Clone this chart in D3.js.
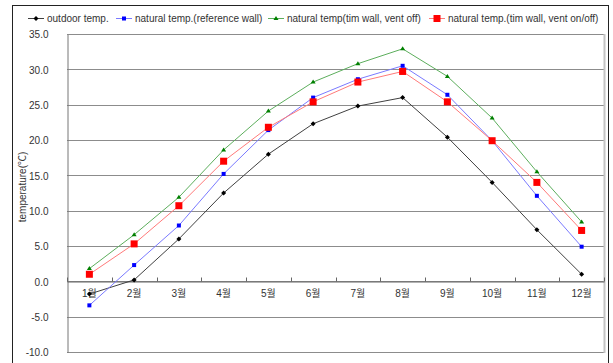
<!DOCTYPE html>
<html>
<head>
<meta charset="utf-8">
<script src="https://cdn.jsdelivr.net/npm/d3@7"></script>
<style>
  html, body { margin: 0; padding: 0; background: #fff; }
  svg { display: block; }
  text { font-family: "Liberation Sans", Arial, "Noto Sans CJK KR", sans-serif; fill: #333; }
</style>
</head>
<body>
<svg id="chart" width="613" height="363"></svg>
<script>
// Monthly temperatures (°C)
const months = ["1월","2월","3월","4월","5월","6월","7월","8월","9월","10월","11월","12월"];
const outdoorTemp   = [-1.8, 0.2, 6.0, 12.5, 18.0, 22.3, 24.8, 26.0, 20.4, 14.0, 7.3, 1.0];
const referenceWall = [-3.4, 2.3, 7.9, 15.2, 21.4, 26.0, 28.6, 30.5, 26.4, 19.9, 12.1, 4.9];
const timWallVentOff   = [1.8, 6.6, 11.9, 18.6, 24.1, 28.2, 30.8, 32.9, 29.0, 23.1, 15.5, 8.4];
const timWallVentOnOff = [1.0, 5.3, 10.7, 17.0, 21.8, 25.4, 28.2, 29.7, 25.4, 19.9, 14.0, 7.2];
const yTicks = [-10, -5, 0, 5, 10, 15, 20, 25, 30, 35];
const legendLabels = [
  "outdoor temp.",
  "natural temp.(reference wall)",
  "natural temp(tim wall, vent off)",
  "natural temp.(tim wall, vent on/off)"
];

const series = [
  { name: legendLabels[0], values: outdoorTemp,      line: "#404040", fill: "#000000", shape: "diamond",  size: 5 },
  { name: legendLabels[1], values: referenceWall,    line: "#7a7aff", fill: "#0000ff", shape: "square",   size: 4 },
  { name: legendLabels[2], values: timWallVentOff,   line: "#5cae5c", fill: "#008000", shape: "triangle", size: 5 },
  { name: legendLabels[3], values: timWallVentOnOff, line: "#ff7a7a", fill: "#ff0000", shape: "square",   size: 7 }
];
const legendX = [28, 116, 268, 429];

const svg = d3.select("#chart");
const plot = { left: 67, right: 604, top: 34, bottom: 352 };

const x = d3.scaleBand().domain(months).range([plot.left, plot.right]).padding(0);
const y = d3.scaleLinear().domain([-10, 35]).range([plot.bottom, plot.top]);

// outer frame
svg.append("rect")
  .attr("x", 12.5).attr("y", 5.5).attr("width", 596).attr("height", 370)
  .attr("fill", "none").attr("stroke", "#222").attr("stroke-width", 1);

// horizontal gridlines
svg.append("g").selectAll("line").data(yTicks).join("line")
  .attr("x1", plot.left).attr("x2", plot.right)
  .attr("y1", d => Math.round(y(d)) + 0.5).attr("y2", d => Math.round(y(d)) + 0.5)
  .attr("stroke", "#8c8c8c").attr("stroke-width", 1);

// plot borders
svg.append("line")
  .attr("x1", plot.right + 0.5).attr("x2", plot.right + 0.5)
  .attr("y1", plot.top).attr("y2", plot.bottom + 1)
  .attr("stroke", "#c4c4c4").attr("stroke-width", 2);

// y axis
const yAxis = svg.append("g")
  .attr("transform", `translate(${plot.left + 0.5},0.5)`)
  .call(d3.axisLeft(y).tickValues(yTicks).tickFormat(d => d.toFixed(1)).tickSize(0).tickPadding(19));
yAxis.select(".domain").attr("stroke", "#777");
yAxis.selectAll("text").attr("font-size", 10).attr("fill", "#333")
  .style("font-family", '"Liberation Sans", Arial, sans-serif');

// x axis on the zero line, ticks between categories pointing up
const y0 = Math.round(y(0)) + 0.5;
const xAxis = svg.append("g").attr("transform", `translate(0,${y0})`)
  .call(d3.axisBottom(x).tickSize(0).tickPadding(8));
xAxis.select(".domain").attr("stroke", "#666");
xAxis.selectAll("text").attr("font-size", 10).attr("fill", "#333");
const boundaries = months.map(m => x(m)).concat([plot.right]);
svg.append("g").selectAll("line").data(boundaries).join("line")
  .attr("x1", d => Math.round(d) + 0.5).attr("x2", d => Math.round(d) + 0.5)
  .attr("y1", y0 - 4).attr("y2", y0)
  .attr("stroke", "#666");

// y axis title
svg.append("text")
  .attr("transform", `translate(26,${(plot.top + plot.bottom) / 2 - 6}) rotate(-90)`)
  .attr("text-anchor", "middle").attr("font-size", 10)
  .text("temperature(℃)");

// marker shapes
function marker(sel, s) {
  const h = s.size / 2;
  if (s.shape === "square") {
    sel.append("rect").attr("x", -h).attr("y", -h).attr("width", s.size).attr("height", s.size).attr("fill", s.fill);
  } else if (s.shape === "diamond") {
    sel.append("path").attr("d", `M0,${-h}L${h},0L0,${h}L${-h},0Z`).attr("fill", s.fill);
  } else {
    sel.append("path").attr("d", `M0,${-h}L${h},${h - 1}L${-h},${h - 1}Z`).attr("fill", s.fill);
  }
}

const cx = m => x(m) + x.bandwidth() / 2;
const line = d3.line().x((d, i) => cx(months[i])).y(d => y(d));

series.forEach(s => {
  svg.append("path").datum(s.values)
    .attr("d", line).attr("fill", "none")
    .attr("stroke", s.line).attr("stroke-width", 1);
});
series.forEach(s => {
  svg.append("g").selectAll("g").data(s.values).join("g")
    .attr("transform", (d, i) => `translate(${cx(months[i])},${y(d)})`)
    .each(function () { marker(d3.select(this), s); });
});

// legend
const legend = svg.append("g").attr("transform", "translate(0,18)");
series.forEach((s, i) => {
  const g = legend.append("g").attr("transform", `translate(${legendX[i]},0)`);
  g.append("line").attr("x1", 0).attr("x2", 16).attr("y1", 0.5).attr("y2", 0.5)
    .attr("stroke", s.line).attr("stroke-width", 1);
  const mk = g.append("g").attr("transform", "translate(8,0.5)");
  marker(mk, s);
  g.append("text").attr("x", 19).attr("y", 3.5).attr("font-size", 10).text(s.name);
});
</script>
</body>
</html>
